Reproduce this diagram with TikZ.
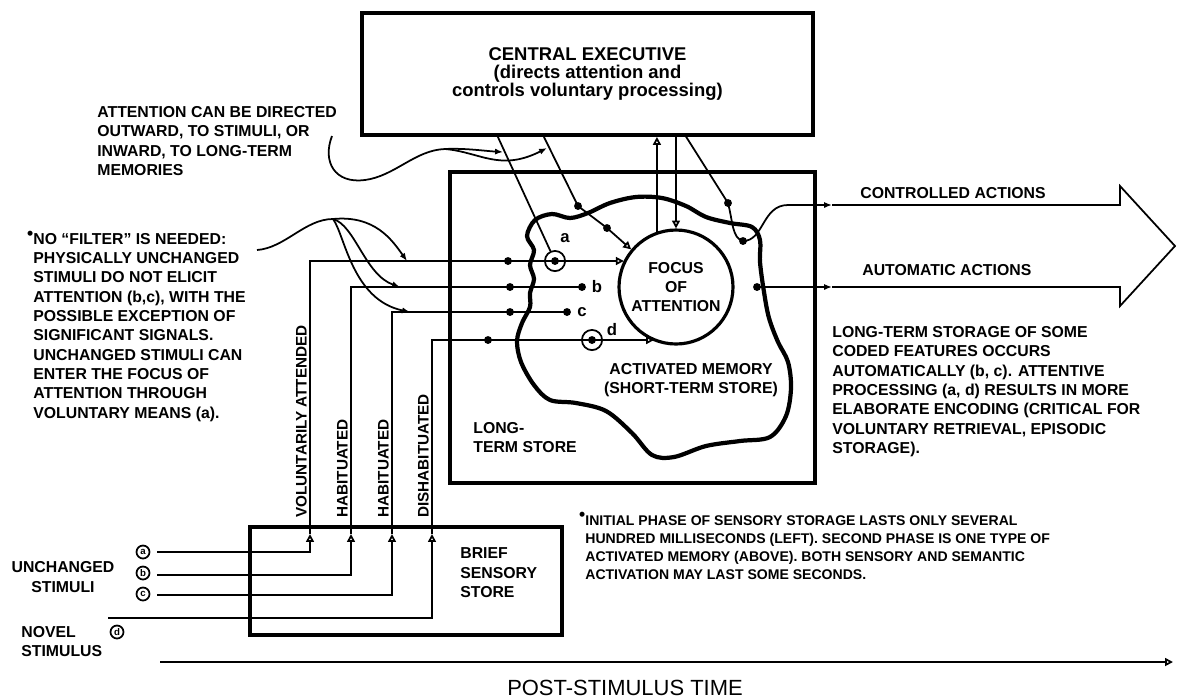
\documentclass[tikz,border=0pt]{standalone}
\usepackage{fontspec}
\setmainfont{Liberation Sans}
\usetikzlibrary{arrows.meta,positioning,calc}

\begin{document}
\begin{tikzpicture}[x=0.02cm, y=-0.02cm,
    box/.style={draw, line width=2.2pt, inner sep=0pt},
    wire/.style={line width=1pt},
    txt/.style={font=\fontsize{9}{11}\selectfont\bfseries, align=left, inner sep=0pt},
    vlab/.style={font=\fontsize{8.7}{10}\selectfont\bfseries, rotate=90, anchor=south west, inner sep=0pt},
    lab/.style={font=\fontsize{9.5}{10}\selectfont\bfseries, inner sep=0pt},
    dot/.style={circle, fill, inner sep=0pt, minimum size=4.5pt},
    ring/.style={circle, draw, line width=1pt, inner sep=0pt, minimum size=11.5pt},
    stim/.style={circle, draw, line width=1pt, inner sep=0pt, minimum size=7.4pt,
      font=\fontsize{5.5}{6}\selectfont\bfseries},
    openhead/.style={-{Triangle[open, length=4.5pt, width=4.5pt]}},
    fillhead/.style={-{Latex[length=4.5pt, width=3.5pt]}},
  ]
  \useasboundingbox (0,0) rectangle (1177,698);

  % Central executive
  \node[box, minimum width=9.02cm, minimum height=2.44cm, align=center,
    font=\fontsize{10.5}{10.4}\selectfont\bfseries] (exec) at (587.5,74)
    {CENTRAL EXECUTIVE\\(directs attention and\\controls voluntary processing)};
  \coordinate (e1) at (497,135);
  \coordinate (e2) at (543,135);
  \coordinate (e3) at (685,135);

  % Long-term store with activated memory inside
  \node[box, minimum width=7.3cm, minimum height=6.22cm] (lts) at (632.5,327.5) {};
  \draw[line width=2.4pt] plot[smooth cycle, tension=0.55] coordinates {
    (527,236) (535,220) (552,214) (570,218) (588,213) (610,203) (636,197)
    (662,198) (686,206) (706,217) (730,223) (752,227) (760,240) (760,262)
    (764,292) (769,318) (778,342) (788,362) (791,388) (786,416) (770,437)
    (740,441) (706,446) (674,457) (652,455) (632,433) (606,411) (576,403)
    (550,400) (534,385) (521,362) (517,341) (522,323) (530,307) (530,293)
    (534,279) (530,265) (534,250)};
  \node[circle, draw, line width=1.8pt, minimum size=2.28cm, inner sep=0pt,
    align=center, font=\fontsize{9}{11}\selectfont\bfseries] (focus) at (676,287)
    {FOCUS\\OF\\ATTENTION};
  \node[txt, align=center] (amem) at (691,380) {ACTIVATED MEMORY\\(SHORT-TERM STORE)};
  \node[txt, anchor=north west] (ltslab) at (473,422) {LONG-\\TERM STORE};

  % Brief sensory store
  \node[box, minimum width=6.24cm, minimum height=2.16cm] (bss) at (406,581) {};
  \node[txt, anchor=north west, font=\fontsize{9}{11.3}\selectfont\bfseries]
    (bsslab) at (460,547) {BRIEF\\SENSORY\\STORE};

  % Stimuli
  \node[stim] (sa) at (143,552) {a};
  \node[stim] (sb) at (143,573) {b};
  \node[stim] (sc) at (143,594) {c};
  \node[stim] (sd) at (117,632) {d};
  \node[txt, align=center] (unch) at (63,577) {UNCHANGED\\STIMULI};
  \node[txt, anchor=north west] (novel) at (21,626) {NOVEL\\STIMULUS};
  \coordinate (ia) at (157,552);
  \coordinate (ib) at (157,575);
  \coordinate (ic) at (157,595);
  \coordinate (id) at (108,618);

  % Routes up from the sensory store
  \coordinate (ua) at (310,534);
  \coordinate (ub) at (351,534);
  \coordinate (uc) at (392,534);
  \coordinate (ud) at (432,534);
  \coordinate (ta) at (310,261);
  \coordinate (tb) at (351,287);
  \coordinate (tc) at (392,312);
  \coordinate (td) at (432,340);
  \draw[wire, openhead] (ia) -| (ua);
  \draw[wire, openhead] (ib) -| (ub);
  \draw[wire, openhead] (ic) -| (uc);
  \draw[wire, openhead] (id) -| (ud);
  \node[vlab] (vvol) at (307,518) {VOLUNTARILY ATTENDED};
  \node[vlab] (vhab1) at (348,518) {HABITUATED};
  \node[vlab] (vhab2) at (389,518) {HABITUATED};
  \node[vlab] (vdis) at (429,518) {DISHABITUATED};

  % Dots and rings on the four routes
  \node[dot] (a1) at (508,261) {};
  \node[ring] (ra) at (555,261) {};
  \node[dot] at (ra) {};
  \node[dot] (b1) at (510,287) {};
  \node[dot] (b2) at (582,287) {};
  \node[dot] (c1) at (510,312) {};
  \node[dot] (c2) at (567,312) {};
  \node[dot] (d1) at (488,340) {};
  \node[ring] (rd) at (592,340) {};
  \node[dot] at (rd) {};
  \node[lab] (la) at (565,238) {a};
  \node[lab] (lb) at (597,287) {b};
  \node[lab] (lc) at (582,312) {c};
  \node[lab] (ld) at (612,330) {d};

  \draw[wire, openhead] (ua) -- (ta) -- (a1.center) -- (ra.center) -- (focus.153 |- ta);
  \draw[wire] (ub) -- (tb) -- (b1.center) -- (b2.center);
  \draw[wire] (uc) -- (tc) -- (c1.center) -- (c2.center);
  \draw[wire, openhead] (ud) -- (td) -- (d1.center) -- (rd.center) -- (focus.248 |- td);

  % Executive links
  \node[dot] (g1) at (578,206) {};
  \node[dot] (g2) at (607,228) {};
  \node[dot] (h1) at (728,203) {};
  \node[dot] (h2) at (743,241) {};
  \node[dot] (h3) at (757,287) {};
  \draw[wire] (e1) -- (ra);
  \draw[wire, openhead] (e2) -- (g1.center) -- (g2.center) -- (focus.140);
  \draw[wire, openhead] (focus.109.5) -- (focus.109.5 |- exec.south);
  \draw[wire, openhead] (exec.south -| focus.north) -- (focus.north);
  \draw[wire] (e3) -- (h1.center) .. controls (733,222) and (732,238) .. (h2.center);

  % Actions
  \coordinate (chead) at (832,205);
  \coordinate (ahead) at (832,287);
  \draw[wire, fillhead] (h2.center) .. controls (764,241) and (762,205) .. (788,205) -- (chead);
  \draw[wire, fillhead] (h3.center) -- (ahead);
  \draw[wire] (chead) -- (1120,205) -- (1120,186) -- (1175,246) -- (1120,306)
    -- (1120,287) -- (ahead);
  \node[txt, anchor=west] (ctrl) at (860,193) {CONTROLLED ACTIONS};
  \node[txt, anchor=west] (auto) at (862,270) {AUTOMATIC ACTIONS};

  % Notes
  \node[txt, anchor=north west] (attnote) at (97,106)
    {ATTENTION CAN BE DIRECTED\\OUTWARD, TO STIMULI, OR\\INWARD, TO LONG-TERM\\MEMORIES};
  \node[txt, anchor=north west] (filtnote) at (33,231)
    {\llap{\raisebox{2.5pt}{\fontsize{10}{10}\selectfont •}}NO “FILTER” IS NEEDED:\\
     PHYSICALLY UNCHANGED\\STIMULI DO NOT ELICIT\\ATTENTION (b,c), WITH THE\\
     POSSIBLE EXCEPTION OF\\SIGNIFICANT SIGNALS.\\UNCHANGED STIMULI CAN\\
     ENTER THE FOCUS OF\\ATTENTION THROUGH\\VOLUNTARY MEANS (a).};
  \node[txt, anchor=north west] (ltsnote) at (832,326)
    {LONG-TERM STORAGE OF SOME\\CODED FEATURES OCCURS\\AUTOMATICALLY (b, c). ATTENTIVE\\
     PROCESSING (a, d) RESULTS IN MORE\\ELABORATE ENCODING (CRITICAL FOR\\
     VOLUNTARY RETRIEVAL, EPISODIC\\STORAGE).};
  \node[txt, anchor=north west, font=\fontsize{8}{10.4}\selectfont\bfseries] (bssnote) at (585,512)
    {\llap{\raisebox{2.5pt}{\fontsize{10}{10}\selectfont •}}INITIAL PHASE OF SENSORY STORAGE LASTS ONLY SEVERAL\\
     HUNDRED MILLISECONDS (LEFT). SECOND PHASE IS ONE TYPE OF\\
     ACTIVATED MEMORY (ABOVE). BOTH SENSORY AND SEMANTIC\\
     ACTIVATION MAY LAST SOME SECONDS.};

  % Curved pointers from the notes
  \coordinate (attn) at (332,136);
  \coordinate (afork) at (445,149);
  \coordinate (at1) at (503,152);
  \coordinate (at2) at (547,148);
  \draw[wire] (attn) .. controls (322,162) and (335,184) .. (365,180)
    .. controls (395,176) and (415,150) .. (afork);
  \draw[wire, fillhead] (afork) .. controls (465,148) and (485,151) .. (at1);
  \draw[wire, fillhead] (afork) .. controls (480,152) and (500,172) .. (at2);

  \coordinate (filt) at (257,250);
  \coordinate (ffork) at (333,219);
  \coordinate (fa) at (407,261);
  \coordinate (fb) at (400,287);
  \coordinate (fc) at (410,312);
  \draw[wire] (filt) .. controls (285,248) and (305,219) .. (ffork);
  \draw[wire, fillhead] (ffork) .. controls (375,215) and (392,240) .. (fa);
  \draw[wire, fillhead] (ffork) .. controls (355,225) and (365,275) .. (fb);
  \draw[wire, fillhead] (ffork) .. controls (345,235) and (352,300) .. (fc);

  % Time axis
  \coordinate (tstart) at (160,662);
  \coordinate (tend) at (1173,662);
  \draw[wire, openhead] (tstart) -- (tend);
  \node[font=\fontsize{12.5}{14}\selectfont] (ptime) at (625,688) {POST-STIMULUS TIME};
\end{tikzpicture}
\end{document}
